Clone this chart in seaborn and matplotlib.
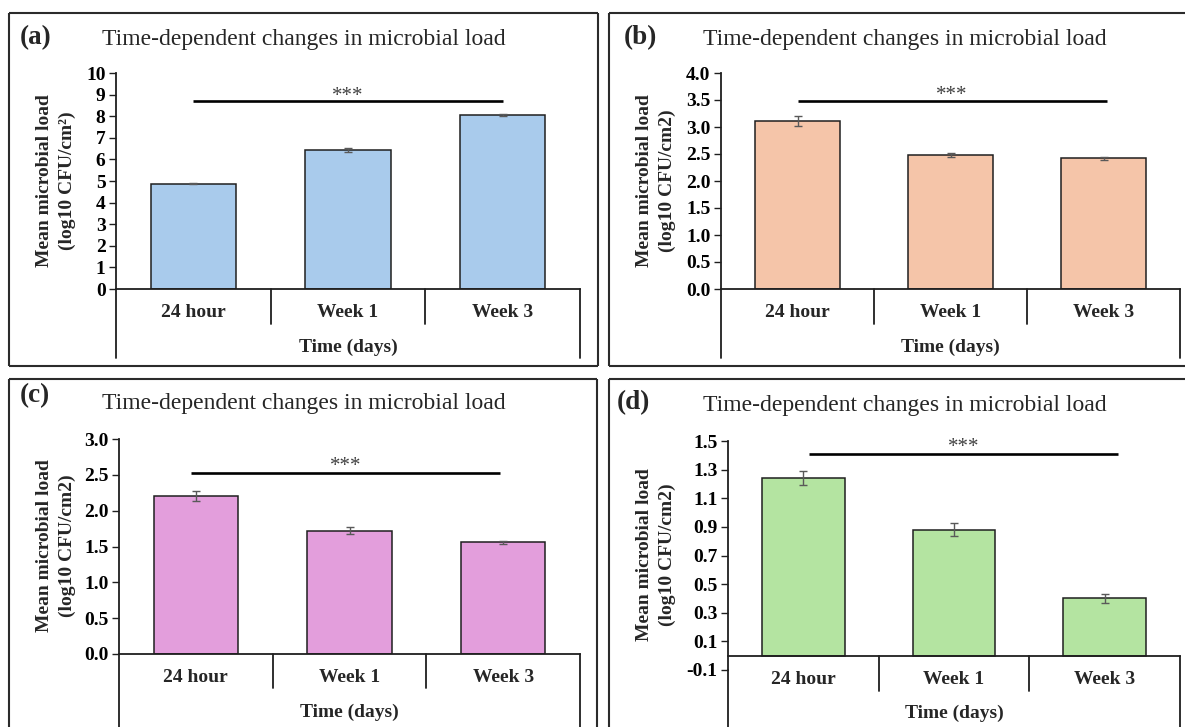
import matplotlib
matplotlib.use("Agg")
import matplotlib.pyplot as plt
import matplotlib.transforms as mtransforms
from matplotlib.lines import Line2D
import seaborn as sns
import numpy as np

# ---------------- data ----------------
categories = ["24 hour", "Week 1", "Week 3"]

vals_a = [4.87, 6.42, 8.05]
err_a = [0.03, 0.10, 0.06]
vals_b = [3.11, 2.48, 2.42]
err_b = [0.10, 0.04, 0.03]
vals_c = [2.20, 1.72, 1.56]
err_c = [0.07, 0.05, 0.02]
vals_d = [1.24, 0.88, 0.40]
err_d = [0.05, 0.045, 0.03]

panel_letters = ["(a)", "(b)", "(c)", "(d)"]
title_text = "Time-dependent changes in microbial load"
xlabel_text = "Time (days)"
ylabels = ["Mean microbial load\n(log10 CFU/cm\u00b2)",
           "Mean microbial load\n(log10 CFU/cm2)",
           "Mean microbial load\n(log10 CFU/cm2)",
           "Mean microbial load\n(log10 CFU/cm2)"]
yticks_a = [0, 1, 2, 3, 4, 5, 6, 7, 8, 9, 10]
yticks_b = [0.0, 0.5, 1.0, 1.5, 2.0, 2.5, 3.0, 3.5, 4.0]
yticks_c = [0.0, 0.5, 1.0, 1.5, 2.0, 2.5, 3.0]
yticks_d = [-0.1, 0.1, 0.3, 0.5, 0.7, 0.9, 1.1, 1.3, 1.5]
sig_label = "***"

# ---------------- style ----------------
sns.set_theme(style="white")
plt.rcParams["font.family"] = ["Liberation Serif", "DejaVu Serif"]

W, H = 1185, 727
fig = plt.figure(figsize=(W / 100, H / 100), dpi=100)
fig.patch.set_facecolor("white")


def fx(x):
    return x / W


def fy(y):
    return 1 - y / H


def fline(x0, y0, x1, y1, lw=1.5, color="#2b2b2b"):
    fig.add_artist(Line2D([fx(x0), fx(x1)], [fy(y0), fy(y1)], transform=fig.transFigure,
                          color=color, lw=lw, solid_capstyle="butt"))


# panel borders
fline(9, 13, 598, 13); fline(9, 13, 9, 366); fline(598, 13, 598, 366); fline(9, 366, 598, 366)
fline(609, 13, 1190, 13); fline(609, 13, 609, 366); fline(609, 366, 1190, 366)
fline(9, 379, 597, 379); fline(9, 379, 9, 730); fline(597, 379, 597, 730)
fline(609, 379, 1190, 379); fline(609, 379, 609, 730)

panels = [
    dict(vals=vals_a, errs=err_a, color="#A9CBEC", ylim=(0, 10), ticks=yticks_a, fmt="{:d}",
         ax_px=(116, 73, 580, 289), zero_px=289, sep_end=324, outer_end=358,
         cat_y=312, xl_y=347, title=(304, 40), letter=(36, 38), ylab=(56, 181),
         sig=(0.0, 2.0, 8.7), star=9.2),
    dict(vals=vals_b, errs=err_b, color="#F5C5A9", ylim=(0, 4), ticks=yticks_b, fmt="{:.1f}",
         ax_px=(721, 73, 1180, 289), zero_px=289, sep_end=324, outer_end=358,
         cat_y=312, xl_y=347, title=(905, 40), letter=(640, 38), ylab=(656, 181),
         sig=(0.0, 2.02, 3.49), star=3.71),
    dict(vals=vals_c, errs=err_c, color="#E39EDC", ylim=(0, 3), ticks=yticks_c, fmt="{:.1f}",
         ax_px=(119, 439, 580, 654), zero_px=654, sep_end=688, outer_end=730,
         cat_y=677, xl_y=712, title=(304, 403), letter=(35, 396), ylab=(56, 546),
         sig=(-0.03, 1.98, 2.53), star=2.70),
    dict(vals=vals_d, errs=err_d, color="#B4E4A1", ylim=(-0.1, 1.5), ticks=yticks_d, fmt="{:.1f}",
         ax_px=(728, 441, 1180, 670), zero_px=656, sep_end=691, outer_end=730,
         cat_y=680, xl_y=713, title=(905, 405), letter=(633, 403), ylab=(656, 555),
         sig=(0.04, 2.09, 1.41), star=1.50),
]

for i, p in enumerate(panels):
    x0, y0, x1, y1 = p["ax_px"]
    ax = fig.add_axes([fx(x0), fy(y1), (x1 - x0) / W, (y1 - y0) / H])
    ax.set_facecolor("none")
    sns.barplot(x=categories, y=p["vals"], color=p["color"], saturation=1, width=0.55,
                edgecolor="#1f1f1f", linewidth=1.1, errorbar=None, ax=ax)
    ax.errorbar(x=np.arange(len(categories)), y=p["vals"], yerr=p["errs"], fmt="none",
                ecolor="#595959", elinewidth=1.0, capsize=2.6, capthick=1.0, zorder=5)
    ax.set_xlim(-0.5, 2.5)
    ax.set_ylim(*p["ylim"])
    ax.set_yticks(p["ticks"])
    ax.set_yticklabels([p["fmt"].format(t) for t in p["ticks"]])
    for lab in ax.get_yticklabels():
        lab.set_fontweight("bold")
        lab.set_fontsize(14)
    ax.tick_params(axis="y", which="major", left=True, length=5, width=1.0, pad=2.5,
                   color="#1f1f1f", labelcolor="black")
    ax.tick_params(axis="x", bottom=False, labelbottom=False)
    ax.set_xlabel("")
    ax.set_ylabel("")
    for s in ["top", "right"]:
        ax.spines[s].set_visible(False)
    ax.spines["left"].set_color("#1f1f1f")
    ax.spines["left"].set_linewidth(1.3)
    ax.spines["bottom"].set_color("#1f1f1f")
    ax.spines["bottom"].set_linewidth(1.3)
    if p["ylim"][0] < 0:
        ax.spines["bottom"].set_position(("data", 0))

    # multi-level category axis
    bt = mtransforms.blended_transform_factory(ax.transData, fig.transFigure)
    zp = p["zero_px"]
    for xs in [0.5, 1.5]:
        ax.add_line(Line2D([xs, xs], [fy(zp), fy(p["sep_end"])], transform=bt, color="#1f1f1f",
                           lw=1.3, clip_on=False))
    ax.add_line(Line2D([2.5, 2.5], [fy(zp), fy(p["outer_end"])], transform=bt, color="#1f1f1f",
                       lw=1.3, clip_on=False))
    ax.add_line(Line2D([-0.5, -0.5], [fy(y1), fy(p["outer_end"])], transform=bt, color="#1f1f1f",
                       lw=1.3, clip_on=False))
    for k, c in enumerate(categories):
        ax.text(k, fy(p["cat_y"]), c, transform=bt, ha="center", va="center",
                fontsize=14, fontweight="bold")
    ax.text(1, fy(p["xl_y"]), xlabel_text, transform=bt, ha="center", va="center",
            fontsize=14, fontweight="bold")

    # significance bar
    sx0, sx1, sy = p["sig"]
    ax.plot([sx0, sx1], [sy, sy], color="black", lw=1.9, solid_capstyle="butt", clip_on=False)
    star_tr = mtransforms.offset_copy(ax.transData, fig=fig, x=0, y=-11, units="dots")
    ax.text((sx0 + sx1) / 2, p["star"], sig_label, transform=star_tr, ha="center",
            va="baseline", fontsize=15, color="#404040")

    # titles and letters
    fig.text(fx(p["title"][0]), fy(p["title"][1]), title_text, ha="center", va="center",
             fontsize=17)
    fig.text(fx(p["letter"][0]), fy(p["letter"][1]), panel_letters[i], ha="center", va="center",
             fontsize=19.5, fontweight="bold")
    fig.text(fx(p["ylab"][0]), fy(p["ylab"][1]), ylabels[i], ha="center", va="center",
             rotation=90, fontsize=14, fontweight="bold", multialignment="center",
             linespacing=1.45)

fig.savefig("out.png", dpi=100)
